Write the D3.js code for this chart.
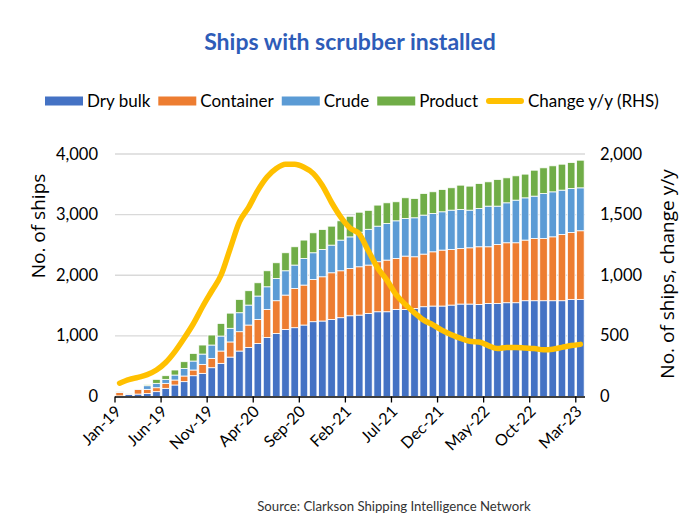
<!DOCTYPE html>
<html><head><meta charset="utf-8">
<script src="https://cdn.jsdelivr.net/npm/d3@7"></script>
<style>
html,body{margin:0;padding:0;background:#fff;}
svg{display:block;font-family:Lato,"Open Sans",sans-serif;}
</style></head>
<body>
<svg id="chart" width="700" height="525"></svg>
<script>
const months = ["Jan-19","Feb-19","Mar-19","Apr-19","May-19","Jun-19","Jul-19","Aug-19","Sep-19","Oct-19","Nov-19","Dec-19",
"Jan-20","Feb-20","Mar-20","Apr-20","May-20","Jun-20","Jul-20","Aug-20","Sep-20","Oct-20","Nov-20","Dec-20",
"Jan-21","Feb-21","Mar-21","Apr-21","May-21","Jun-21","Jul-21","Aug-21","Sep-21","Oct-21","Nov-21","Dec-21",
"Jan-22","Feb-22","Mar-22","Apr-22","May-22","Jun-22","Jul-22","Aug-22","Sep-22","Oct-22","Nov-22","Dec-22",
"Jan-23","Feb-23","Mar-23"];
const tickLabels = ["Jan-19","Jun-19","Nov-19","Apr-20","Sep-20","Feb-21","Jul-21","Dec-21","May-22","Oct-22","Mar-23"];
const dryBulk = [10,35,40,50,80,135,190,245,343,382,475,547,650,
  750,810,876,975,1041,1107,1135,1179,1234,1245,1272,1300,1332,
  1343,1371,1398,1398,1437,1437,1453,1481,1492,1492,1508,1525,1525,
  1519,1535,1535,1547,1547,1580,1580,1580,1580,1580,1602,1602];
const container = [55,10,78,68,65,82,82,93,94,148,154,203,250,
  319,369,396,462,539,566,648,659,697,730,769,774,781,
  797,797,825,852,841,879,852,868,895,923,918,917,928,
  951,935,973,989,989,1000,1027,1027,1054,1093,1104,1132];
const crude = [10,5,10,60,72,66,82,126,148,170,220,247,225,
  313,329,385,373,368,401,385,440,440,451,456,506,520,
  570,590,587,604,620,621,643,643,633,632,648,643,621,
  632,670,632,659,703,697,698,742,742,731,725,708];
const product = [5,5,5,17,66,60,83,110,126,149,165,209,250,
  220,237,219,264,258,297,302,302,329,329,313,318,340,
  330,313,347,341,314,341,319,357,357,368,369,401,396,
  412,401,440,412,401,391,428,423,429,428,429,456];
const changeYY = [110,140,158,180,218,280,370,480,600,740,870,1000,1220,
  1440,1560,1700,1810,1880,1915,1915,1890,1840,1740,1600,1480,1390,
  1340,1200,1060,960,840,760,690,630,590,545,510,480,455,
  450,420,395,405,405,400,395,385,390,405,420,430];
const leftTicks = [0,1000,2000,3000,4000];
const rightTicks = [0,500,1000,1500,2000];
const seriesNames = ["Dry bulk","Container","Crude","Product"];
const colors = ["#4472C4","#ED7D31","#5B9BD5","#70AD47"];
const lineColor = "#FFC000";

const svg = d3.select("#chart");
const M = {left:115, right:585, top:154, bottom:396.5};

const x = d3.scaleBand().domain(months).range([M.left, M.right]).paddingInner(0.18).paddingOuter(0.09);
const y = d3.scaleLinear().domain([0,4000]).range([M.bottom, M.top]);
const y2 = d3.scaleLinear().domain([0,2000]).range([M.bottom, M.top]);

// title
svg.append("text").attr("x",350).attr("y",50).attr("text-anchor","middle")
  .attr("font-size",23).attr("font-weight","bold").attr("fill","#2E5CB8")
  .text("Ships with scrubber installed");

// gridlines
svg.append("g").selectAll("line").data(leftTicks.filter(d=>d>0)).join("line")
  .attr("x1",M.left).attr("x2",M.right).attr("y1",d=>y(d)).attr("y2",d=>y(d))
  .attr("stroke","#D9D9D9").attr("stroke-width",1.3);

// stacked bars
const rows = months.map((m,i)=>({month:m,"Dry bulk":dryBulk[i],"Container":container[i],"Crude":crude[i],"Product":product[i]}));
const stack = d3.stack().keys(seriesNames)(rows);
svg.append("g").selectAll("g").data(stack).join("g")
  .attr("fill",(d,i)=>colors[i])
  .selectAll("rect").data(d=>d).join("rect")
  .attr("x",d=>x(d.data.month)).attr("width",x.bandwidth())
  .attr("y",d=>y(d[1])).attr("height",d=>Math.max(0,y(d[0])-y(d[1])))
  .attr("stroke","#fff").attr("stroke-width",0.8);

// x axis
const step = (M.right-M.left)/months.length;
svg.append("line").attr("x1",M.left).attr("x2",M.right).attr("y1",M.bottom+0.5).attr("y2",M.bottom+0.5)
  .attr("stroke","#000").attr("stroke-width",1.3);
const tickIdx = tickLabels.map(t=>months.indexOf(t));
const xt = svg.append("g");
xt.selectAll("line").data(tickIdx).join("line")
  .attr("x1",i=>M.left+i*step).attr("x2",i=>M.left+i*step)
  .attr("y1",M.bottom).attr("y2",M.bottom+6).attr("stroke","#000").attr("stroke-width",1.3);
xt.selectAll("text").data(tickIdx).join("text")
  .attr("transform",i=>`translate(${M.left+i*step+7},${M.bottom+16}) rotate(-45)`)
  .attr("text-anchor","end").attr("font-size",16).attr("fill","#000")
  .text(i=>months[i]);

// left axis labels
svg.append("g").selectAll("text").data(leftTicks).join("text")
  .attr("x",98).attr("y",d=>y(d)+5.5).attr("text-anchor","end").attr("font-size",16.5).attr("fill","#000")
  .text(d=>d3.format(",")(d));
// right axis labels
svg.append("g").selectAll("text").data(rightTicks).join("text")
  .attr("x",600).attr("y",d=>y2(d)+5.5).attr("text-anchor","start").attr("font-size",16.5).attr("fill","#000")
  .text(d=>d3.format(",")(d));

// axis titles
svg.append("text").attr("transform","translate(45,226) rotate(-90)").attr("text-anchor","middle")
  .attr("font-size",19).attr("fill","#000").attr("font-family","'Open Sans',sans-serif").text("No. of ships");
svg.append("text").attr("transform","translate(674,274) rotate(-90)").attr("text-anchor","middle")
  .attr("font-size",19).attr("fill","#000").attr("font-family","'Open Sans',sans-serif").text("No. of ships, change y/y");

// line
const line = d3.line().x((d,i)=>x(months[i])+x.bandwidth()/2).y(d=>y2(d)).curve(d3.curveMonotoneX);
svg.append("path").datum(changeYY).attr("d",line).attr("fill","none")
  .attr("stroke",lineColor).attr("stroke-width",5.5).attr("stroke-linecap","round").attr("stroke-linejoin","round");

// legend
const legItems = seriesNames.map((n,i)=>({name:n,color:colors[i],type:"rect"})).concat([{name:"Change y/y (RHS)",color:lineColor,type:"line"}]);
const leg = svg.append("g");
let lx = 45;
const ly = 101;
legItems.forEach(it=>{
  if(it.type==="rect"){
    leg.append("rect").attr("x",lx).attr("y",ly-4.5).attr("width",38).attr("height",9).attr("fill",it.color);
  } else {
    leg.append("line").attr("x1",lx+3).attr("x2",lx+35).attr("y1",ly).attr("y2",ly)
      .attr("stroke",it.color).attr("stroke-width",6).attr("stroke-linecap","round");
  }
  const t = leg.append("text").attr("x",lx+42).attr("y",ly+6).attr("font-size",17).attr("fill","#000").text(it.name);
  lx += 42 + t.node().getComputedTextLength() + 8;
});

// source
svg.append("text").attr("x",394).attr("y",511).attr("text-anchor","middle").attr("font-size",13.2)
  .attr("fill","#333").text("Source: Clarkson Shipping Intelligence Network");
</script>
</body></html>
